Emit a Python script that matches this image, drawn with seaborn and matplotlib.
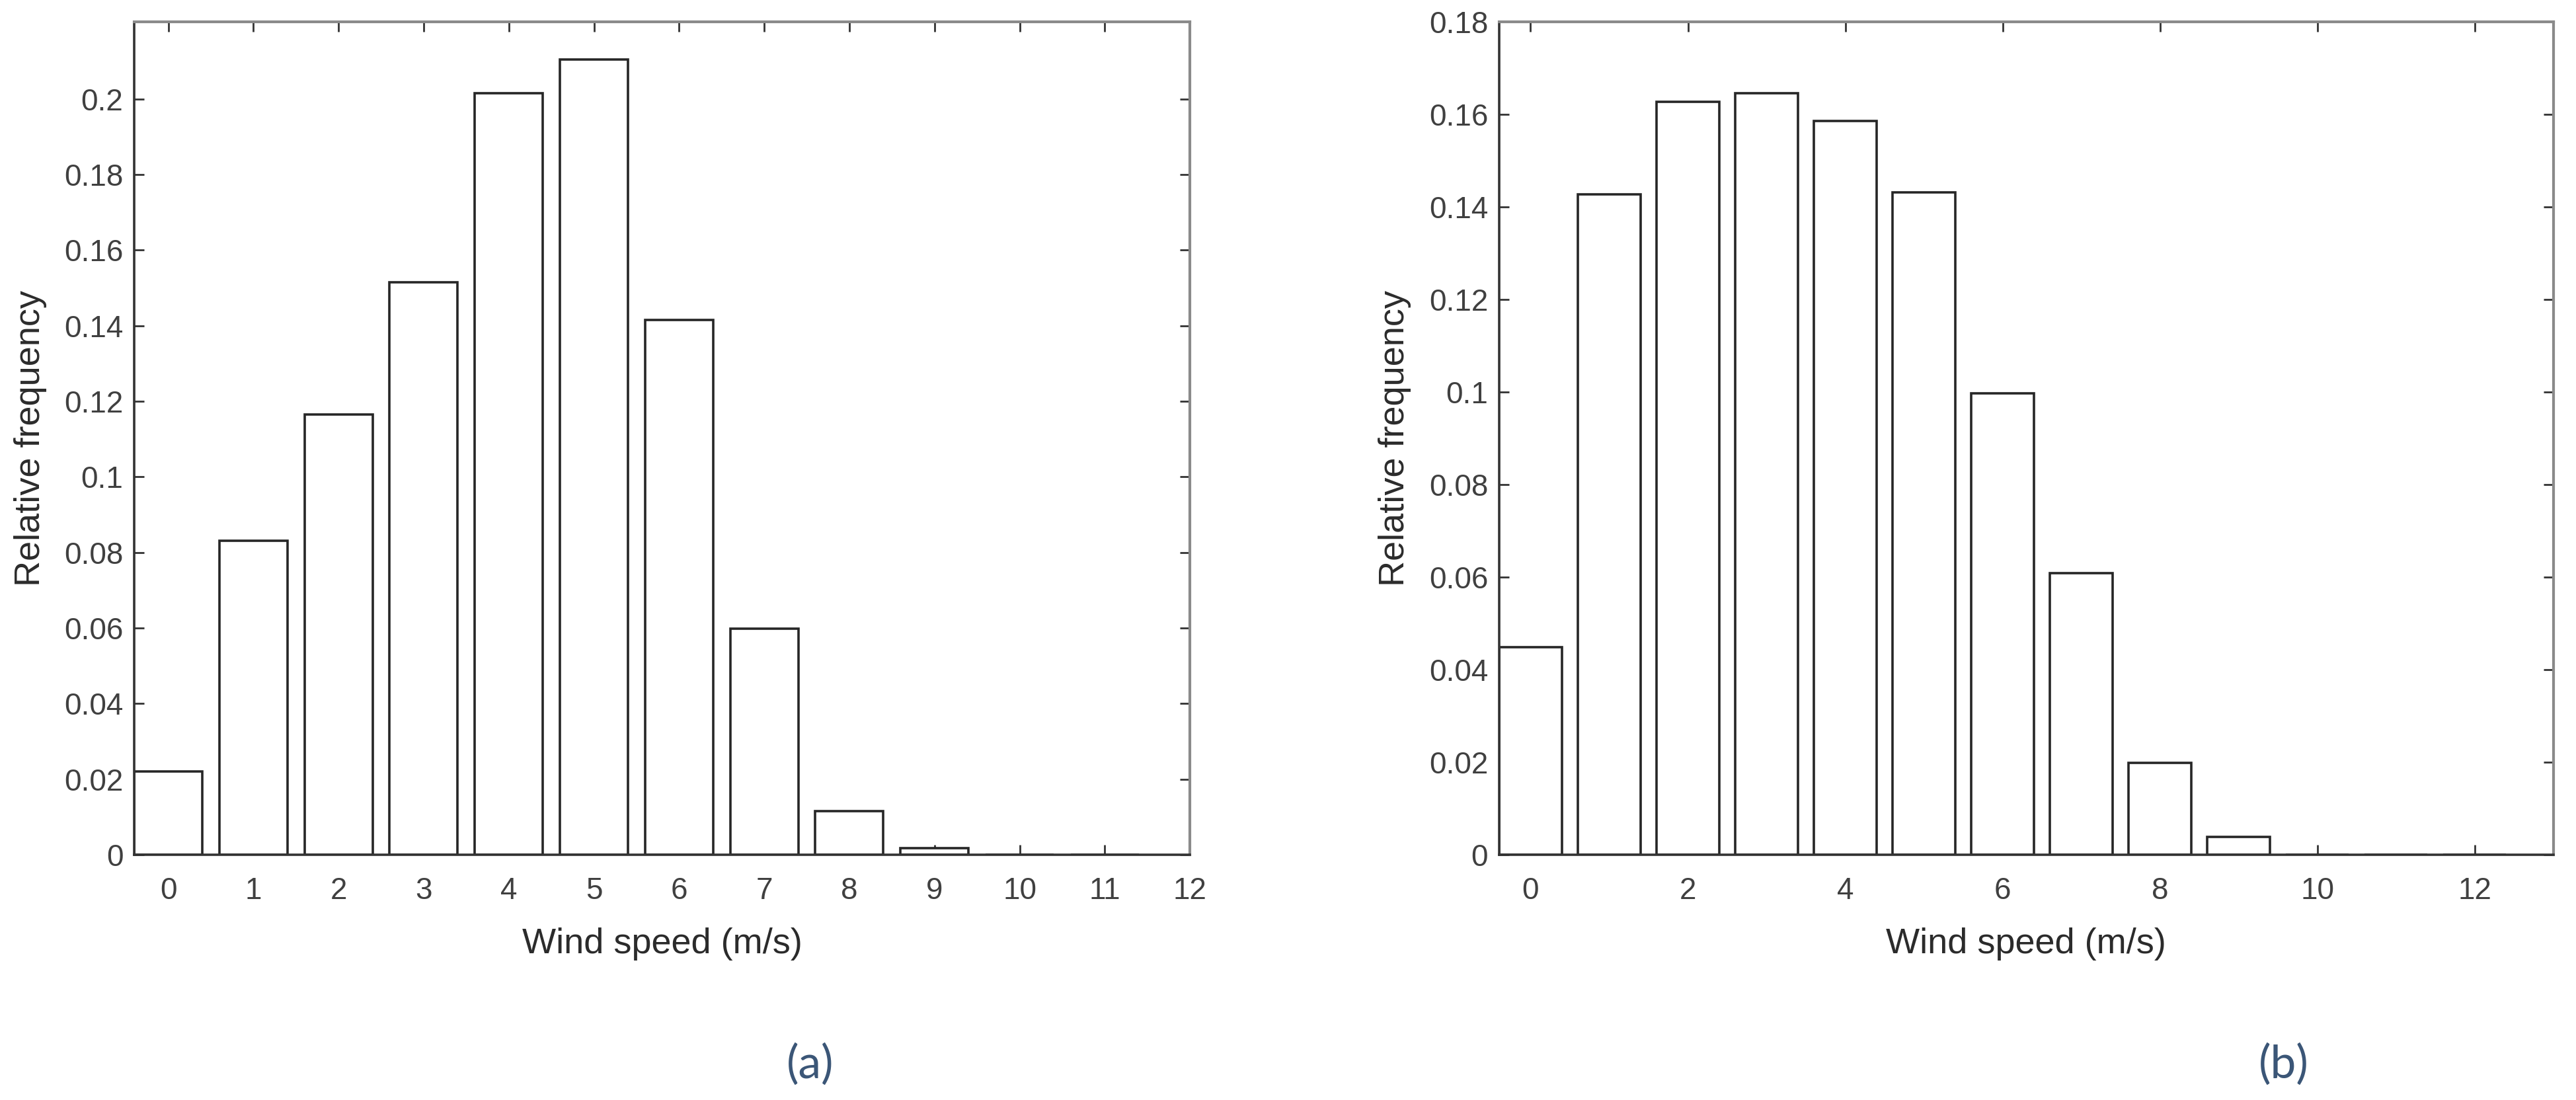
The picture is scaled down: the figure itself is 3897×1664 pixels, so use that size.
import numpy as np
import pandas as pd
import matplotlib
matplotlib.use("Agg")
import matplotlib.pyplot as plt
import seaborn as sns
from matplotlib.ticker import FormatStrFormatter

sns.set_style("ticks")
plt.rcParams["font.family"] = ["Liberation Sans", "DejaVu Sans"]

# wind speed bins and relative frequencies
speed_a = [0, 1, 2, 3, 4, 5, 6, 7, 8, 9, 10, 11]
freq_a = [0.022, 0.083, 0.1165, 0.1515, 0.2015, 0.2105, 0.1415, 0.0598, 0.0115, 0.0017, 0.0, 0.0]

speed_b = [0, 1, 2, 3, 4, 5, 6, 7, 8, 9, 10, 11, 12]
freq_b = [0.0448, 0.1427, 0.1627, 0.1645, 0.1585, 0.1432, 0.0997, 0.0609, 0.0199, 0.0039, 0.0, 0.0, 0.0]

xticks_a = list(range(0, 13))
xticks_b = list(range(0, 13, 2))
yticks_a = np.arange(0, 0.201, 0.02)
yticks_b = np.arange(0, 0.181, 0.02)

df_a = pd.DataFrame({"speed": speed_a, "freq": freq_a})
df_b = pd.DataFrame({"speed": speed_b, "freq": freq_b})

fig = plt.figure(figsize=(38.98, 16.64), dpi=100)
ax_a = fig.add_axes([0.0521, 0.2230, 0.4097, 0.7572])
ax_b = fig.add_axes([0.5818, 0.2230, 0.4092, 0.7572])

panels = [
    (ax_a, df_a, (-0.4, 12), 0.2204, xticks_a, yticks_a, "(a)", 0.3143),
    (ax_b, df_b, (-0.4, 13), 0.18, xticks_b, yticks_b, "(b)", 0.8864),
]

for ax, df, xlim, ytop, xt, yt, tag, tag_x in panels:
    sns.barplot(data=df, x="speed", y="freq", native_scale=True, width=0.8,
                color="white", edgecolor="#262626", linewidth=2.6,
                errorbar=None, ax=ax)
    ax.set_xlim(*xlim)
    ax.set_ylim(0, ytop)
    ax.set_xticks(xt)
    ax.set_yticks(yt)
    ax.yaxis.set_major_formatter(FormatStrFormatter("%g"))
    ax.tick_params(axis="both", direction="in", length=11, width=2,
                   color="#333333", labelsize=33, labelcolor="#404040",
                   top=True, right=True)
    ax.tick_params(axis="x", pad=24)
    ax.tick_params(axis="y", pad=12)
    for side in ["left", "bottom"]:
        ax.spines[side].set_color("#333333")
        ax.spines[side].set_linewidth(2.6)
    for side in ["top", "right"]:
        ax.spines[side].set_visible(True)
        ax.spines[side].set_color("#8a8a8a")
        ax.spines[side].set_linewidth(3)
    ax.set_xlabel("Wind speed (m/s)", fontsize=39, color="#2b2b2b")
    ax.set_ylabel("Relative frequency", fontsize=39, color="#2b2b2b")
    ax.xaxis.set_label_coords(0.5, -0.087)
    ax.yaxis.set_label_coords(-0.083, 0.5)
    fig.text(tag_x, 0.032, tag, fontsize=50, color="#3b5677",
             ha="center", va="center", family=["Lato", "DejaVu Sans"])

fig.savefig("out.png", dpi=100)
